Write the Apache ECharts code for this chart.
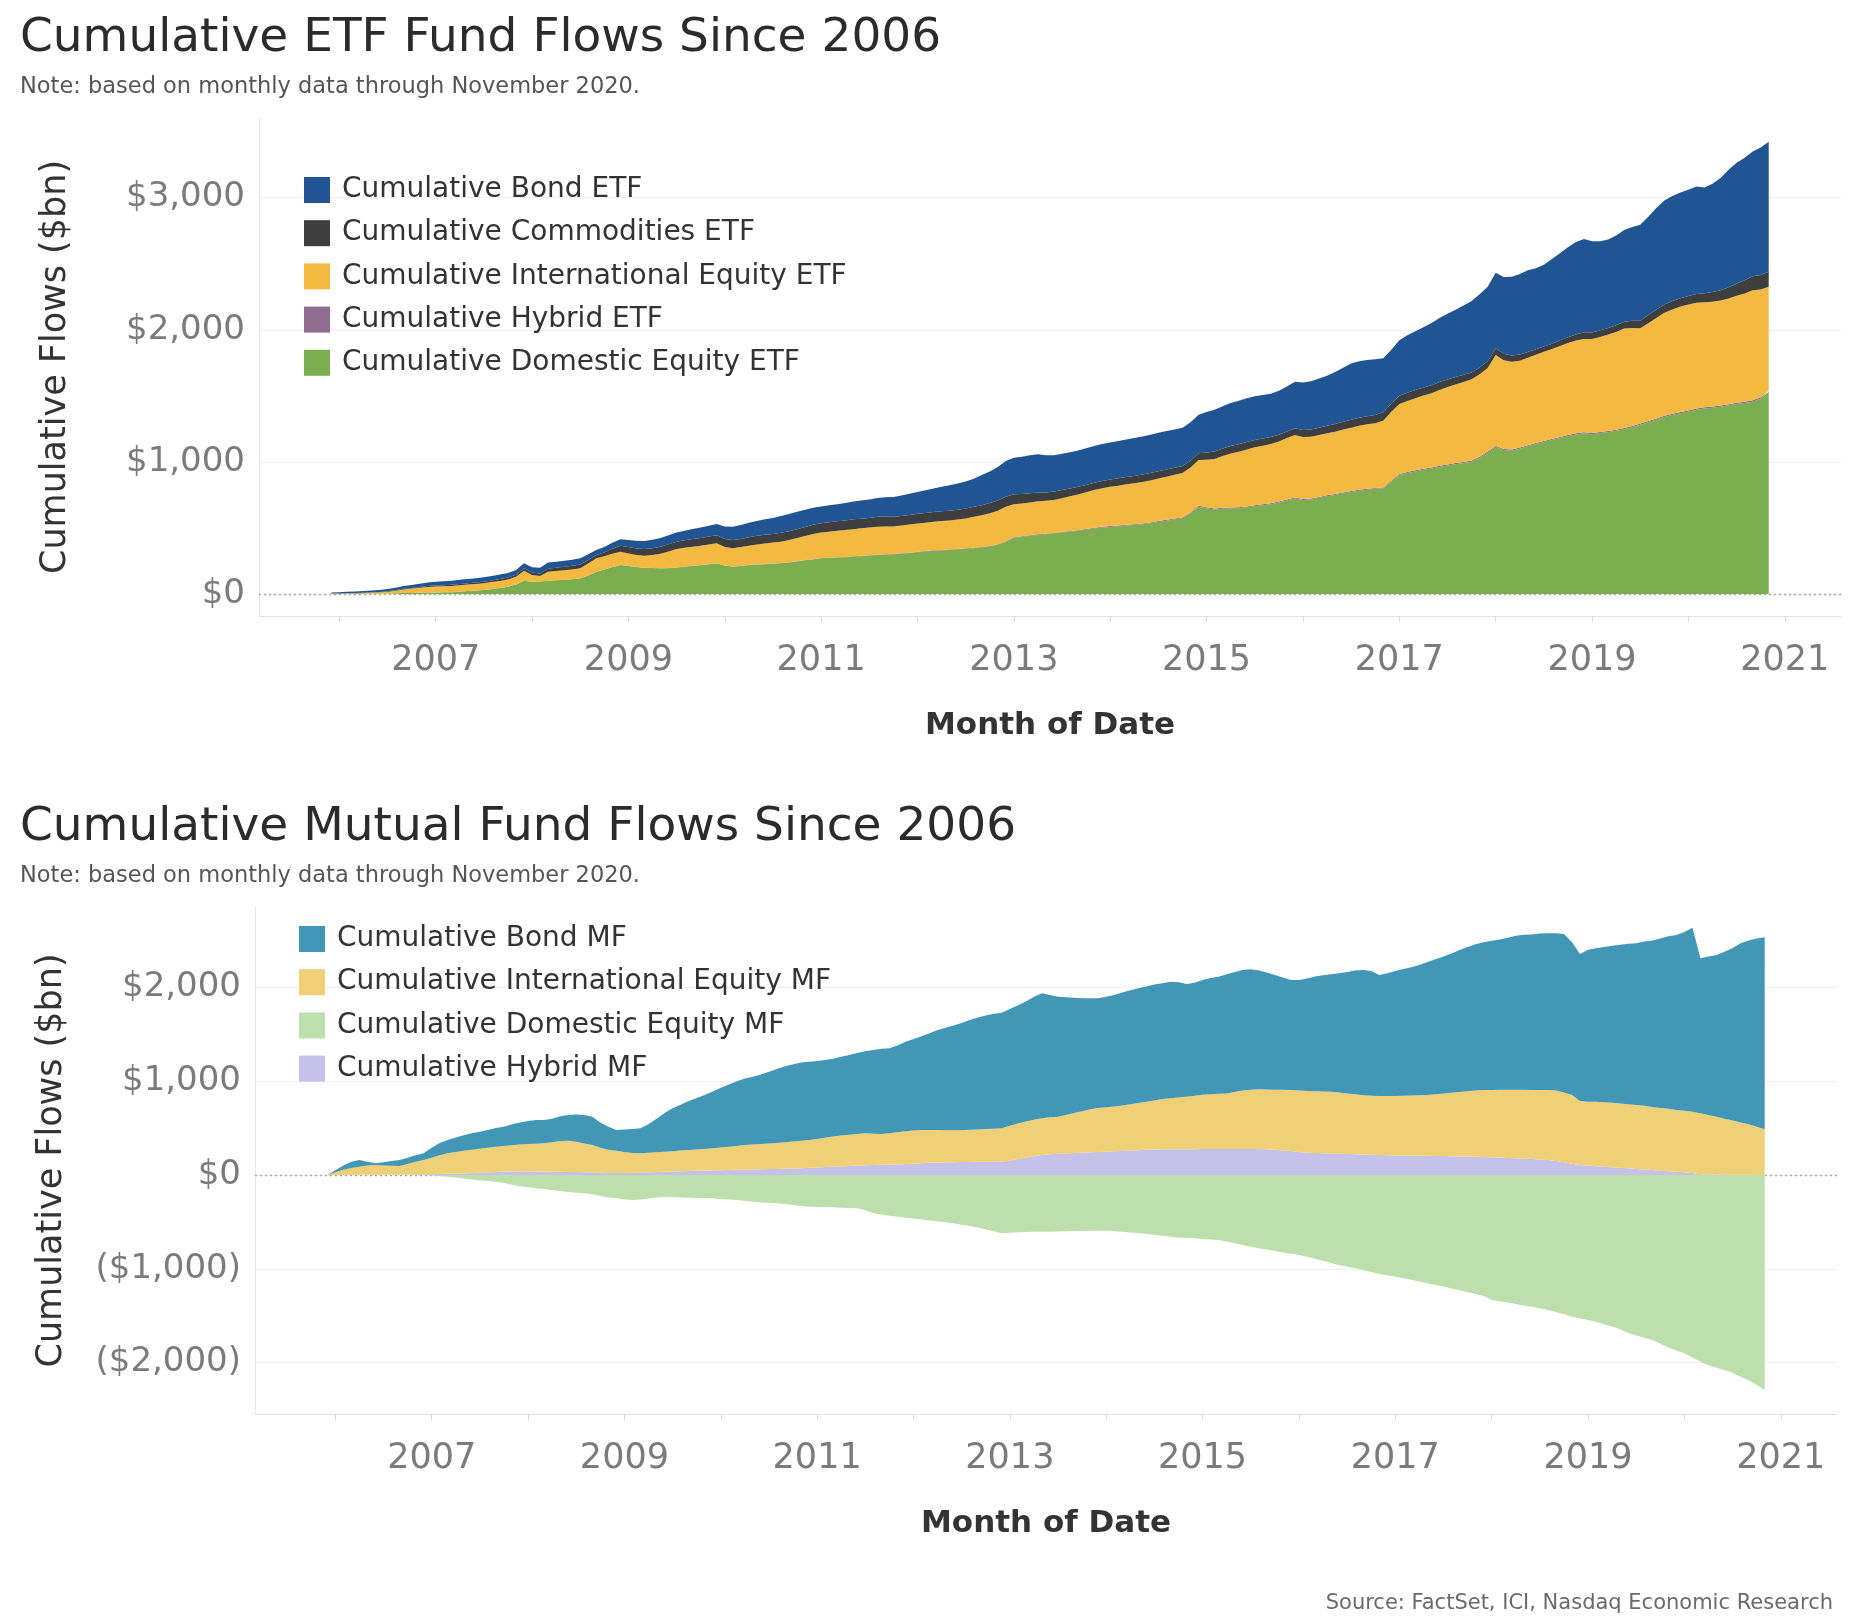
<!DOCTYPE html>
<html><head><meta charset="utf-8">
<script src="https://cdn.jsdelivr.net/npm/echarts@6/dist/echarts.min.js"></script>
<style>html,body{margin:0;padding:0;background:#fff}#c{width:1856px;height:1622px}</style>
</head><body><div id="c"></div>
<script>
// ---------- Data (monthly cumulative flows, $bn), Dec 2005 .. Nov 2020 ----------
const DATA_START = '2005-12';
const AXIS_START = '2005-03';
const AXIS_END = '2021-08';

const etfDomestic = [0,
0,1,1,2,3,3,4,5,7,8,9,11,
12,13,14,18,22,26,30,38,46,55,72,100,
92,95,101,104,108,112,119,140,169,185,205,220,
212,205,198,196,194,195,200,207,212,218,225,232,
215,207,212,218,222,226,229,232,238,246,255,262,
270,273,276,279,282,286,290,295,298,300,305,310,
316,322,328,330,333,337,342,347,352,360,372,395,
425,432,440,447,452,459,465,472,478,486,495,503,
508,512,518,522,528,536,545,555,565,573,610,661,
650,640,645,648,649,656,665,672,680,693,708,724,
712,715,728,740,750,762,772,782,790,796,800,850,
901,915,928,940,950,962,973,983,992,1002,1030,1070,
1115,1090,1085,1100,1118,1135,1150,1165,1180,1195,1208,1216,
1210,1218,1225,1235,1247,1262,1282,1300,1320,1340,1355,1368,
1380,1395,1405,1410,1418,1428,1438,1446,1456,1480,1531];

const etfHybrid = [0,
0,0,0,0,0,0,0,0,0,0,0,0,
0,0,0,0,0,0,0,0,0,0,0,0,
0,0,0,0,0,0,0,0,0,0,0,0,
0,0,0,0,1,1,1,1,1,1,1,1,
1,1,1,2,2,2,2,2,2,2,2,2,
2,2,2,2,3,3,3,3,3,3,3,3,
3,3,3,4,4,4,4,4,4,4,4,5,
5,5,5,5,5,5,5,5,5,6,6,6,
6,6,6,6,6,6,7,7,7,7,7,7,
7,7,7,7,7,7,7,7,7,7,7,7,
7,7,7,7,7,7,7,7,7,7,7,7,
8,8,8,8,8,8,8,8,8,8,8,8,
8,8,8,8,8,8,8,8,8,8,8,8,
8,8,9,9,9,9,9,9,9,9,9,9,
9,9,9,9,9,9,9,9,10,10,10];

const etfIntl = [3,
3,4,5,6,8,10,14,20,28,33,38,42,
44,46,47,48,49,50,51,52,53,54,58,76,
52,41,68,70,72,74,75,90,101,100,100,100,
95,90,92,100,110,125,139,142,145,147,149,151,
140,138,142,146,150,155,158,162,168,175,182,190,
194,197,200,203,206,208,210,212,210,208,210,213,
215,215,216,218,220,222,226,234,240,248,255,260,
250,248,248,250,248,248,255,262,270,278,286,292,
298,302,306,310,314,318,322,326,330,335,340,346,
360,375,392,408,420,430,438,444,449,455,465,473,
470,468,468,470,472,476,480,484,487,489,505,523,
530,538,546,554,562,574,585,595,605,615,625,633,
686,672,665,658,662,668,675,682,690,697,702,707,
712,720,730,740,754,742,720,740,760,780,790,799,
802,800,795,794,794,800,810,820,833,815,785];

const etfCommod = [0,
0,1,1,2,2,3,3,4,4,5,6,7,
8,8,9,10,10,11,12,13,14,15,16,18,
18,19,22,24,26,28,30,28,26,30,38,45,
48,50,50,50,52,55,55,56,58,58,60,60,
60,62,62,64,66,66,66,67,67,68,68,70,
70,71,72,73,74,73,72,74,75,73,72,72,
73,74,74,74,74,75,75,75,76,76,76,76,
75,72,70,66,64,63,62,60,58,56,55,55,
55,56,56,56,56,56,56,55,54,53,52,51,
55,57,58,58,58,58,56,54,52,51,50,50,
52,55,56,56,57,58,60,61,62,63,63,62,
62,62,62,62,61,60,58,56,54,52,51,50,
50,49,48,46,44,42,40,40,42,44,47,50,
50,50,50,50,51,55,58,62,63,63,63,63,
64,66,68,72,78,84,92,100,106,110,114];

const etfBond = [9,
10,11,12,13,14,15,17,19,21,23,25,27,
28,29,30,31,32,33,33,34,34,35,35,38,
40,43,47,47,46,46,46,42,38,40,45,49,
53,59,62,64,66,68,70,73,76,79,82,86,
95,102,106,110,113,116,120,128,130,132,130,128,
126,128,130,132,136,138,140,142,146,150,155,160,
166,172,178,186,192,198,205,212,228,240,255,270,
277,282,288,290,282,276,275,274,276,277,278,280,
280,282,284,286,288,289,290,290,290,291,291,292,
305,315,320,325,328,330,331,330,328,332,340,353,
360,366,372,379,395,410,426,428,425,422,410,407,
420,435,445,456,470,485,497,510,525,540,555,565,
572,580,595,610,618,613,620,640,660,680,700,707,
690,675,669,680,695,710,726,745,770,787,795,800,
805,814,800,820,850,890,915,928,945,965,984];

const mfDomestic = [0,
0,0,0,0,0,0,0,0,0,0,0,0,
-5,-10,-18,-28,-38,-48,-58,-65,-71,-85,-105,-120,
-130,-142,-150,-160,-170,-180,-190,-195,-205,-225,-240,-249,
-260,-267,-262,-250,-240,-231,-235,-240,-243,-245,-247,-249,
-255,-262,-267,-275,-285,-292,-296,-302,-310,-320,-330,-338,
-340,-342,-345,-348,-352,-355,-375,-409,-420,-435,-444,-455,
-465,-475,-485,-495,-505,-515,-530,-545,-560,-580,-600,-620,
-615,-610,-608,-606,-605,-604,-602,-600,-598,-596,-594,-594,
-595,-600,-605,-612,-618,-628,-638,-648,-658,-666,-672,-675,
-682,-688,-693,-710,-728,-746,-764,-780,-795,-810,-825,-840,
-853,-872,-893,-915,-938,-960,-978,-995,-1015,-1035,-1055,-1070,
-1084,-1100,-1118,-1135,-1153,-1173,-1190,-1210,-1230,-1250,-1270,-1290,
-1333,-1345,-1360,-1375,-1390,-1405,-1420,-1439,-1460,-1485,-1510,-1530,
-1546,-1565,-1590,-1615,-1645,-1688,-1710,-1735,-1759,-1800,-1840,-1870,
-1901,-1945,-1990,-2030,-2055,-2079,-2110,-2150,-2186,-2240,-2292];

const mfHybrid = [0,
0,1,2,3,3,4,4,5,5,6,6,7,
8,10,12,14,17,20,24,28,32,36,38,40,
40,38,36,35,34,33,31,30,28,25,22,22,
22,23,25,28,31,34,37,40,43,45,47,49,
51,53,55,57,59,61,63,65,67,70,73,76,
80,84,89,93,97,100,103,106,108,110,113,117,
121,125,131,134,136,137,138,139,140,141,142,142,
155,170,185,200,213,220,226,230,234,238,242,246,
249,252,256,260,264,268,272,274,275,275,274,274,
276,277,278,278,278,277,277,276,274,270,262,255,
245,238,235,232,229,226,223,220,217,215,213,210,
208,207,206,205,204,203,202,200,198,196,195,193,
190,186,182,178,174,170,166,160,150,135,120,107,
100,94,88,82,77,71,65,58,52,46,40,35,
30,20,8,5,4,3,3,2,2,1,1];

const mfIntl = [0,
30,54,73,86,97,103,96,93,91,112,134,153,
177,200,219,231,241,250,256,262,270,274,280,285,
290,296,302,315,328,333,324,305,292,265,248,237,
223,212,206,208,211,214,217,220,224,227,231,236,
241,247,255,263,266,269,273,277,283,288,293,297,
305,314,321,327,333,338,341,334,329,335,342,348,
354,355,349,346,342,339,340,343,346,349,352,355,
370,380,385,390,392,395,396,410,426,442,458,469,
473,478,486,495,504,512,523,536,542,550,561,571,
579,583,588,592,607,623,633,637,638,640,646,651,
655,657,657,658,659,654,647,640,633,630,629,632,
634,638,642,645,649,657,666,676,687,697,705,712,
716,722,728,732,734,736,740,746,750,745,733,683,
682,686,687,688,685,684,681,680,673,669,665,658,
655,655,649,635,616,597,577,558,538,514,486];

const mfBond = [0,
20,45,65,71,40,17,35,52,64,67,70,71,
105,130,142,155,167,174,180,190,198,205,222,235,
245,251,248,250,263,274,290,305,300,270,245,221,
240,255,266,304,358,412,457,490,523,548,575,605,
638,665,690,710,723,740,764,788,810,822,834,835,
830,827,830,840,850,862,876,893,908,906,925,956,
975,1000,1030,1066,1092,1119,1142,1170,1194,1210,1226,1233,
1245,1260,1280,1310,1332,1305,1278,1255,1230,1205,1184,1169,
1178,1190,1203,1215,1222,1230,1235,1235,1244,1230,1201,1205,
1225,1240,1248,1270,1280,1285,1283,1267,1248,1222,1197,1173,
1179,1200,1223,1240,1252,1270,1295,1320,1336,1330,1290,1308,
1333,1350,1366,1390,1417,1440,1462,1484,1514,1537,1560,1575,
1592,1602,1620,1640,1652,1659,1669,1670,1676,1689,1627,1566,
1618,1637,1655,1675,1693,1710,1724,1752,1775,1805,1840,1866,
1905,1962,1653,1690,1725,1780,1840,1910,1960,2005,2047];

const etfNames = ['Cumulative Bond ETF','Cumulative Commodities ETF','Cumulative International Equity ETF','Cumulative Hybrid ETF','Cumulative Domestic Equity ETF'];
const mfNames = ['Cumulative Bond MF','Cumulative International Equity MF','Cumulative Domestic Equity MF','Cumulative Hybrid MF'];

// ---------- Build month categories ----------
function monthList(a, b) {
  const out = [];
  let y = +a.slice(0,4), m = +a.slice(5,7);
  const ye = +b.slice(0,4), me = +b.slice(5,7);
  while (y < ye || (y === ye && m <= me)) {
    out.push(y + '-' + String(m).padStart(2,'0'));
    m++; if (m > 12) { m = 1; y++; }
  }
  return out;
}
const months = monthList(AXIS_START, AXIS_END);
const startIdx = months.indexOf(DATA_START);
function pad(arr) {
  const out = new Array(months.length).fill(null);
  for (let i = 0; i < arr.length; i++) out[startIdx + i] = arr[i];
  return out;
}

const FONT = "'DejaVu Sans', sans-serif";
const TICK_COLOR = '#7b7b7b';

function fmtMoney(v) {
  const s = Math.abs(v).toLocaleString('en-US');
  return v < 0 ? '($' + s + ')' : '$' + s;
}

function xAxisCfg(gi) {
  return {
    type: 'category', gridIndex: gi, data: months, boundaryGap: false,
    axisLine: { show: true, onZero: false, lineStyle: { color: '#e3e3e3', width: 1 } },
    axisTick: { show: true, length: 6, lineStyle: { color: '#dadada' }, interval: (i, v) => v.endsWith('-01') },
    axisLabel: {
      interval: (i, v) => v.endsWith('-01') && (+v.slice(0,4)) % 2 === 1,
      formatter: v => v.slice(0,4),
      fontFamily: FONT, fontSize: 35, color: TICK_COLOR, margin: 27
    },
    splitLine: { show: false },
    name: 'Month of Date', nameLocation: 'middle', nameGap: 94,
    nameTextStyle: { fontFamily: FONT, fontSize: 31, fontWeight: 'bold', color: '#333' }
  };
}
function yAxisCfg(gi, min, max, margin) {
  return {
    type: 'value', gridIndex: gi, min: min, max: max, minInterval: 1000, maxInterval: 1000,
    axisLine: { show: true, onZero: false, lineStyle: { color: '#e6e6e6' } },
    axisTick: { show: false },
    axisLabel: { showMinLabel: false, showMaxLabel: false, formatter: fmtMoney,
      fontFamily: FONT, fontSize: 34, color: TICK_COLOR, margin: margin },
    splitLine: { show: true, showMinLine: false, showMaxLine: false, lineStyle: { color: '#f0f0f0', width: 1 } },
    name: 'Cumulative Flows ($bn)', nameLocation: 'middle', nameGap: 186,
    nameTextStyle: { fontFamily: FONT, fontSize: 35, color: '#333' }
  };
}
function area(name, data, color, gi, stack, zeroLine) {
  const s = {
    type: 'line', name: name, xAxisIndex: gi, yAxisIndex: gi, stack: stack,
    data: pad(data), symbol: 'none', showSymbol: false, smooth: false,
    color: color, itemStyle: { color: color },
    lineStyle: { width: 0, color: color }, areaStyle: { color: color, opacity: 1 },
    emphasis: { disabled: true }, silent: true, z: 2
  };
  if (zeroLine) {
    s.markLine = {
      silent: true, z: 1, symbol: ['none','none'], label: { show: false }, animation: false,
      lineStyle: { type: [2,3], color: '#a8a8a8', width: 1.3 },
      emphasis: { disabled: true },
      data: [{ yAxis: 0 }]
    };
  }
  return s;
}

const C = {
  bondETF: '#205493', commodETF: '#3e3e3e', intlETF: '#f3b941', hybridETF: '#8e6d90', domETF: '#7bae4f',
  bondMF: '#4397b6', intlMF: '#efd077', domMF: '#bddfac', hybridMF: '#c5c1e9'
};

function legendCfg(names, left, top) {
  return {
    data: names, orient: 'vertical', left: left, top: top, icon: 'rect',
    itemWidth: 26, itemHeight: 26, itemGap: 15.2, padding: 0, selectedMode: false,
    textStyle: { fontFamily: FONT, fontSize: 28, color: '#333', lineHeight: 26, padding: [0,0,0,7] }
  };
}

const option = {
  animation: false,
  backgroundColor: '#ffffff',
  title: [
    { text: 'Cumulative ETF Fund Flows Since 2006', left: 20, top: 15, padding: 0,
      textStyle: { fontFamily: FONT, fontSize: 47, fontWeight: 'normal', color: '#2b2b2b' } },
    { text: 'Note: based on monthly data through November 2020.', left: 20, top: 76, padding: 0,
      textStyle: { fontFamily: FONT, fontSize: 22.5, fontWeight: 'normal', color: '#555' } },
    { text: 'Cumulative Mutual Fund Flows Since 2006', left: 20, top: 804, padding: 0,
      textStyle: { fontFamily: FONT, fontSize: 47, fontWeight: 'normal', color: '#2b2b2b' } },
    { text: 'Note: based on monthly data through November 2020.', left: 20, top: 865, padding: 0,
      textStyle: { fontFamily: FONT, fontSize: 22.5, fontWeight: 'normal', color: '#555' } },
    { text: 'Source: FactSet, ICI, Nasdaq Economic Research', right: 23, top: 1593, padding: 0,
      textStyle: { fontFamily: FONT, fontSize: 21, fontWeight: 'normal', color: '#6a6a6a' } }
  ],
  legend: [ legendCfg(etfNames, 304, 176), legendCfg(mfNames, 299, 925) ],
  grid: [
    { left: 259, right: 15, top: 118, height: 498 },
    { left: 255, right: 19, top: 907, height: 507 }
  ],
  xAxis: [ xAxisCfg(0), xAxisCfg(1) ],
  yAxis: [ yAxisCfg(0, -166.5, 3603, 14), yAxisCfg(1, -2548, 2857, 14) ],
  series: [
    area('Cumulative Domestic Equity ETF', etfDomestic, C.domETF, 0, 'etf', true),
    area('Cumulative Hybrid ETF', etfHybrid, C.hybridETF, 0, 'etf'),
    area('Cumulative International Equity ETF', etfIntl, C.intlETF, 0, 'etf'),
    area('Cumulative Commodities ETF', etfCommod, C.commodETF, 0, 'etf'),
    area('Cumulative Bond ETF', etfBond, C.bondETF, 0, 'etf'),
    area('Cumulative Domestic Equity MF', mfDomestic, C.domMF, 1, 'mf', true),
    area('Cumulative Hybrid MF', mfHybrid, C.hybridMF, 1, 'mf'),
    area('Cumulative International Equity MF', mfIntl, C.intlMF, 1, 'mf'),
    area('Cumulative Bond MF', mfBond, C.bondMF, 1, 'mf')
  ]
};

const chart = echarts.init(document.getElementById('c'), null, { renderer: 'canvas', width: 1856, height: 1622 });
chart.setOption(option);
</script></body></html>
